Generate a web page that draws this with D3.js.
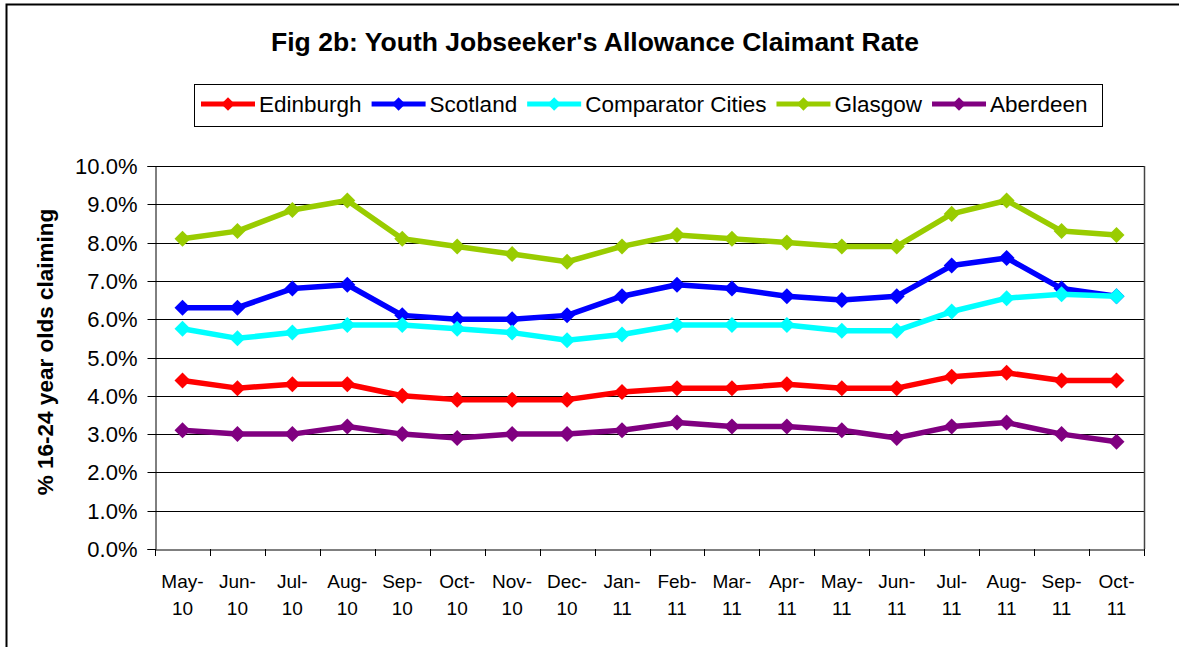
<!DOCTYPE html>
<html><head><meta charset="utf-8">
<script src="https://cdn.jsdelivr.net/npm/d3@7"></script>
<style>body{margin:0;background:#fff}svg{display:block;font-family:"Liberation Sans",Arial,sans-serif}</style>
</head><body><svg id="c" width="1179" height="647"></svg>
<script>
const months = ["May-10","Jun-10","Jul-10","Aug-10","Sep-10","Oct-10","Nov-10","Dec-10","Jan-11","Feb-11","Mar-11","Apr-11","May-11","Jun-11","Jul-11","Aug-11","Sep-11","Oct-11"];
const edinburgh = [4.4,4.2,4.3,4.3,4.0,3.9,3.9,3.9,4.1,4.2,4.2,4.3,4.2,4.2,4.5,4.6,4.4,4.4];
const scotland = [6.3,6.3,6.8,6.9,6.1,6.0,6.0,6.1,6.6,6.9,6.8,6.6,6.5,6.6,7.4,7.6,6.8,6.6];
const comparator = [5.75,5.5,5.65,5.85,5.85,5.75,5.65,5.45,5.6,5.85,5.85,5.85,5.7,5.7,6.2,6.55,6.65,6.6];
const glasgow = [8.1,8.3,8.85,9.1,8.1,7.9,7.7,7.5,7.9,8.2,8.1,8.0,7.9,7.9,8.75,9.1,8.3,8.2];
const aberdeen = [3.1,3.0,3.0,3.2,3.0,2.9,3.0,3.0,3.1,3.3,3.2,3.2,3.1,2.9,3.2,3.3,3.0,2.8];
const yTicks = [0,1,2,3,4,5,6,7,8,9,10];
const seriesNames = ["Edinburgh","Scotland","Comparator Cities","Glasgow","Aberdeen"];
const seriesColors = ["#ff0000","#0000ff","#00ffff","#99cc00","#800080"];
const seriesData = [edinburgh, scotland, comparator, glasgow, aberdeen];

const svg = d3.select("#c");
svg.append("rect").attr("x",6.5).attr("y",4.5).attr("width",1200).attr("height",700).attr("fill","#fff").attr("stroke","#000").attr("stroke-width",2);

const L=155, R=1144, T=166, B=549;
const x = d3.scaleBand().domain(months).range([L,R]);
const y = d3.scaleLinear().domain([0,10]).range([B,T]);

svg.append("g").selectAll("line").data(yTicks.filter(d=>d>0)).join("line")
  .attr("x1",L).attr("x2",R).attr("y1",d=>Math.round(y(d))+0.5).attr("y2",d=>Math.round(y(d))+0.5)
  .attr("stroke","#000").attr("stroke-width",1);
svg.append("line").attr("x1",R+0.5).attr("x2",R+0.5).attr("y1",T).attr("y2",B).attr("stroke","#444").attr("stroke-width",1.5);

const ya = d3.axisLeft(y).tickValues(yTicks).tickSize(8).tickPadding(10).tickFormat(d=>d.toFixed(1)+"%");
const yg = svg.append("g").attr("transform",`translate(${L+0.5},0)`).call(ya);
yg.select(".domain").attr("stroke","#000");
yg.selectAll(".tick line").attr("stroke","#000");
yg.selectAll(".tick").attr("transform",d=>`translate(0,${Math.round(y(d))+0.5})`);
yg.selectAll("text").attr("font-size",22).attr("fill","#000").attr("font-family","Liberation Sans, Arial, sans-serif");

const xa = d3.axisBottom(x).tickSize(0).tickFormat("");
const xg = svg.append("g").attr("transform",`translate(0,${B+0.5})`).call(xa);
xg.select(".domain").attr("stroke","#000");
const bounds = months.map((m)=>x(m)).concat([R]);
svg.append("g").selectAll("line").data(bounds).join("line")
  .attr("x1",d=>Math.round(d)+0.5).attr("x2",d=>Math.round(d)+0.5).attr("y1",B).attr("y2",B+7).attr("stroke","#000");
const xl = svg.append("g").selectAll("text").data(months).join("text")
  .attr("x",d=>x(d)+x.bandwidth()/2).attr("text-anchor","middle").attr("font-size",19).attr("fill","#000");
xl.append("tspan").attr("x",d=>x(d)+x.bandwidth()/2).attr("y",588).text(d=>d.split("-")[0]+"-");
xl.append("tspan").attr("x",d=>x(d)+x.bandwidth()/2).attr("y",615).text(d=>d.split("-")[1]);

const line = d3.line().x((d,i)=>x(months[i])+x.bandwidth()/2).y(d=>y(d));
seriesData.forEach((s,k)=>{
  const g = svg.append("g");
  g.append("path").datum(s).attr("d",line).attr("fill","none").attr("stroke",seriesColors[k]).attr("stroke-width",5.5).attr("stroke-linejoin","round");
  g.selectAll("path.m").data(s).join("path").attr("class","m")
    .attr("d",d3.symbol().type(d3.symbolSquare).size(128))
    .attr("transform",(d,i)=>`translate(${x(months[i])+x.bandwidth()/2},${y(d)}) rotate(45)`)
    .attr("fill",seriesColors[k]);
});

svg.append("text").attr("x",595).attr("y",51).attr("text-anchor","middle").attr("font-size",26.5).attr("font-weight","bold").attr("fill","#000")
  .text("Fig 2b: Youth Jobseeker's Allowance Claimant Rate");
svg.append("text").attr("transform","translate(53,352) rotate(-90)").attr("text-anchor","middle").attr("font-size",22.5).attr("font-weight","bold").attr("fill","#000")
  .text("% 16-24 year olds claiming");

const lg = svg.append("g");
lg.append("rect").attr("x",194.5).attr("y",84.5).attr("width",908).attr("height",42).attr("fill","#fff").attr("stroke","#000").attr("stroke-width",1);
let cx = 201;
seriesNames.forEach((n,k)=>{
  lg.append("line").attr("x1",cx).attr("x2",cx+54).attr("y1",104).attr("y2",104).attr("stroke",seriesColors[k]).attr("stroke-width",5);
  lg.append("path").attr("d",d3.symbol().type(d3.symbolSquare).size(90)).attr("transform",`translate(${cx+27},104) rotate(45)`).attr("fill",seriesColors[k]);
  const t = lg.append("text").attr("x",cx+58).attr("y",112).attr("font-size",22.5).attr("fill","#000").text(n);
  cx = cx+58+t.node().getComputedTextLength()+10;
});
</script></body></html>
